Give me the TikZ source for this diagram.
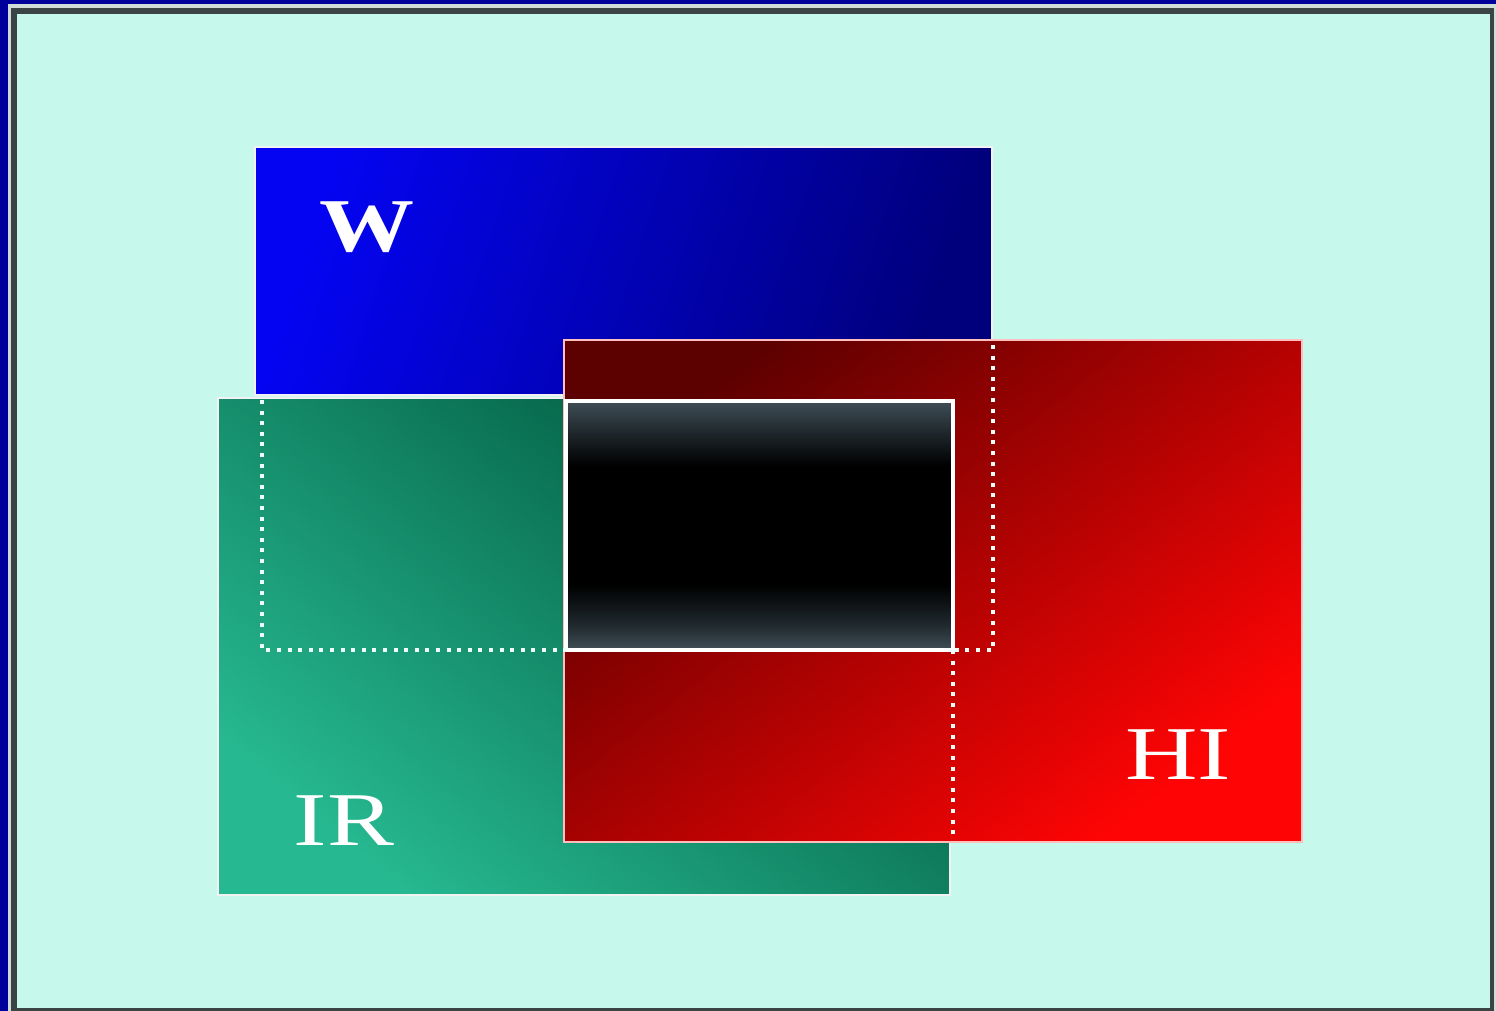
\documentclass[tikz,border=0pt]{standalone}
\usepackage{fontspec}
\setmainfont{Liberation Serif}
\usepackage{graphicx}

\definecolor{navyframe}{HTML}{00009A}
\definecolor{framelight}{HTML}{D0DCD8}
\definecolor{framedark}{HTML}{3A4444}
\definecolor{mint}{HTML}{C6F8EC}
\definecolor{blueA}{HTML}{0404F2}
\definecolor{blueB}{HTML}{00007C}
\definecolor{greenA}{HTML}{26B890}
\definecolor{greenM}{HTML}{148E6E}
\definecolor{greenB}{HTML}{00563C}
\definecolor{redA}{HTML}{5C0000}
\definecolor{redM}{HTML}{CC0000}
\definecolor{redB}{HTML}{FF0404}
\definecolor{bandedge}{HTML}{404E56}
\definecolor{bandlow}{HTML}{20292E}
\definecolor{dotwhite}{HTML}{EEFFFA}

% vertical band: slate at the rims, black through the middle
\pgfdeclareverticalshading{darkband}{100bp}{%
  color(0bp)=(bandedge); color(25bp)=(bandedge); color(30bp)=(bandlow);
  color(38bp)=(black); color(62bp)=(black); color(69bp)=(bandlow);
  color(75bp)=(bandedge); color(100bp)=(bandedge)}

\tikzset{
  panel/.style={draw=white!90!gray, line width=1pt},
  dotline/.style={draw=dotwhite, line width=2.2pt, dash pattern=on 2pt off 3.3pt},
  letter/.style={text=white, inner sep=0pt, anchor=base,
    font=\fontsize{38}{40}\selectfont}
}

\begin{document}
\begin{tikzpicture}[x=0.5pt, y=-0.5pt]
  \useasboundingbox (0,0) rectangle (1496,1011);

  % frame and backdrop
  \fill[navyframe] (0,0) rectangle (1496,1011);
  \fill[framelight] (8,4) rectangle (1496,1011);
  \fill[framedark] (11,8) rectangle (1494,1011);
  \fill[mint] (17,14) rectangle (1490,1008);

  % corners of the panels
  \coordinate (wNW) at (255,147);  \coordinate (wSE) at (992,395);
  \coordinate (irNW) at (218,398); \coordinate (irSE) at (950,895);
  \coordinate (hiNW) at (564,340); \coordinate (hiSE) at (1302,842);
  \coordinate (cNW) at (566,401);  \coordinate (cSE) at (953,650);

  % W panel
  \shade[panel, shading=axis, top color=blueA, middle color=blueA!80!blueB,
         bottom color=blueB, shading angle=72] (wNW) rectangle (wSE);
  % IR panel
  \shade[panel, shading=axis, top color=greenB, middle color=greenM,
         bottom color=greenA, shading angle=-40] (irNW) rectangle (irSE);
  % HI panel
  \shade[draw=red!25!white, line width=1pt, shading=axis, top color=redA,
         middle color=redM, bottom color=redB, shading angle=38]
         (hiNW) rectangle (hiSE);
  % common core
  \shade[draw=white, line width=1.6pt, shading=darkband] (cNW) rectangle (cSE);

  % dotted outlines
  \coordinate (d1) at (262,400); \coordinate (d2) at (262,650);
  \coordinate (d3) at (566,650);
  \coordinate (d4) at (993,345); \coordinate (d5) at (993,650);
  \coordinate (d6) at (953,650); \coordinate (d7) at (953,840);
  \draw[dotline] (d1) -- (d2) -- (d3);
  \draw[dotline] (d4) -- (d5) -- (d6);
  \draw[dotline] (d6) -- (d7);

  % labels
  \node[letter] (lw) at (367,252) {\scalebox{1.25}[1]{\bfseries W}};
  \node[letter] (lir) at (344,845) {\scalebox{1.32}[1]{IR}};
  \node[letter] (lhi) at (1178,779) {\scalebox{1.32}[1]{HI}};
\end{tikzpicture}
\end{document}
